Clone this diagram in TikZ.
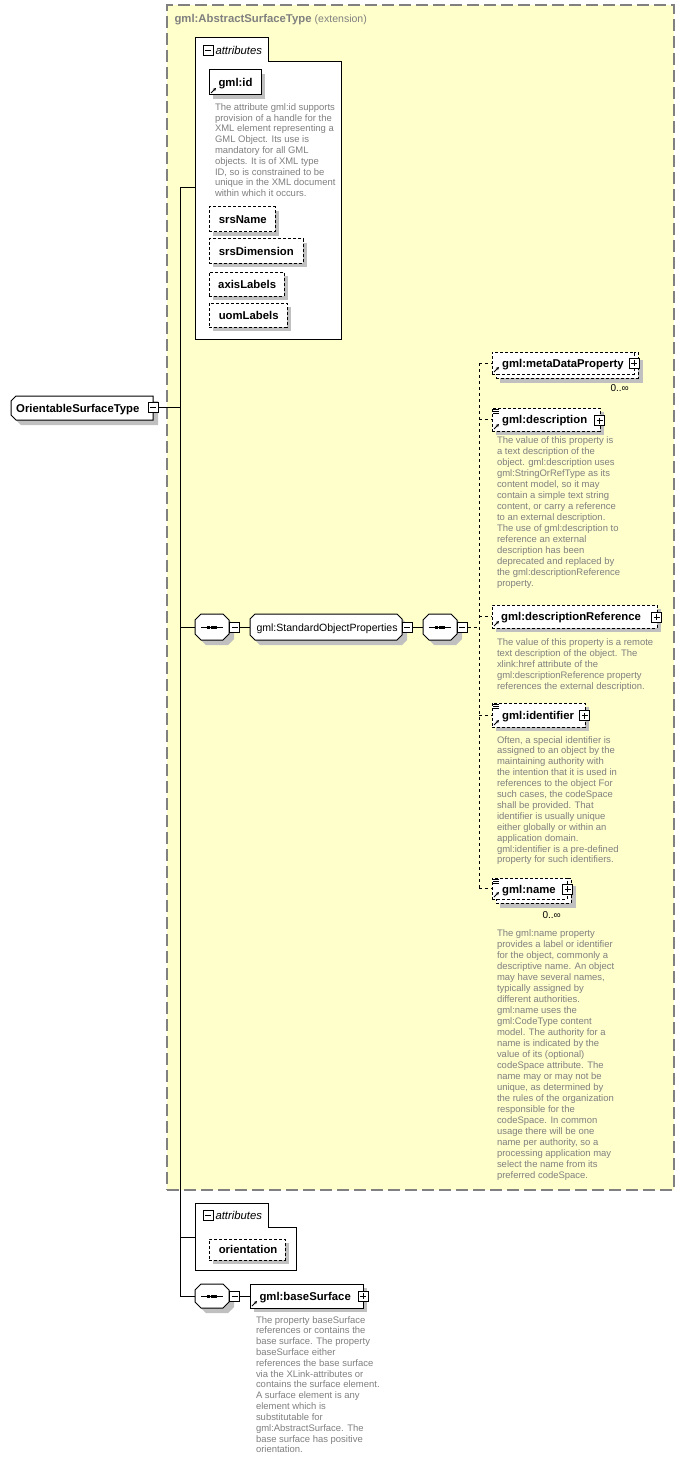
\documentclass[tikz,border=0pt]{standalone}
\usepackage{fontspec}
\setmainfont{Liberation Sans}
\usetikzlibrary{fit,arrows.meta,shadows}
\definecolor{yel}{RGB}{255,255,204}
\definecolor{dgray}{RGB}{128,128,128}
\definecolor{sgray}{RGB}{192,192,192}
\definecolor{tgray}{RGB}{128,128,128}
\newcommand\chamL[5]{(#1,#2+#5) -- (#1+#5,#2) -- (#3,#2) -- (#3,#4) -- (#1+#5,#4) -- (#1,#4-#5) -- cycle}
\newcommand\chamA[5]{(#1,#2+#5) -- (#1+#5,#2) -- (#3-#5,#2) -- (#3,#2+#5) -- (#3,#4-#5) -- (#3-#5,#4) -- (#1+#5,#4) -- (#1,#4-#5) -- cycle}
\newcommand\seqglyph[2]{\draw (#1-11,#2) -- (#1+11,#2);
  \fill (#1-5.3,#2-1.5) rectangle ++(3,3);
  \fill (#1-1.5,#2-1.5) rectangle ++(3,3);
  \fill (#1+2.3,#2-1.5) rectangle ++(3,3);}
\newcommand\arricon[2]{\draw[line width=0.6pt,-{Stealth[length=2.4pt,width=2.4pt]}] (#1+2,#2-2) -- (#1+7,#2-7);}
\newcommand\docicon[2]{\draw[line width=0.5pt] (#1+1,#2+1.5) -- ++(6,0) (#1+1,#2+3.5) -- ++(6,0) (#1+1,#2+5.5) -- ++(6,0);}
\newcommand\desclines[5]{\foreach \dl [count=\di from 0] in {#5} {\node[desc] (#1\di) at (#2,{#3+\di*#4}) {\dl};}}
\begin{document}
\begin{tikzpicture}[x=0.75pt,y=-0.75pt,line width=0.75pt,
  lbl/.style={font=\fontsize{8.5}{10}\selectfont\bfseries, anchor=base west, inner sep=0pt},
  ilbl/.style={font=\fontsize{8.5}{10}\selectfont\itshape, anchor=base west, inner sep=0pt},
  nlbl/.style={font=\fontsize{7.9}{10}\selectfont, anchor=base west, inner sep=0pt},
  desc/.style={font=\fontsize{7.1}{8}\selectfont, text=tgray, anchor=base west, inner sep=0pt},
  occ/.style={font=\fontsize{7.5}{9}\selectfont, anchor=base west, inner sep=0pt},
  box/.style={draw=black, fill=white, inner sep=0pt},
  shbox/.style={box, drop shadow={shadow xshift=3pt, shadow yshift=-3pt, fill=sgray, opacity=1}},
  edash/.style={dash pattern=on 2.25pt off 1.5pt},
  cdash/.style={dash pattern=on 2.25pt off 2.25pt},
  minusbox/.style={draw=black, fill=white, minimum size=7.5pt, inner sep=0pt,
    path picture={\draw[line width=0.75pt] ([xshift=1.5pt]path picture bounding box.west) -- ([xshift=-1.5pt]path picture bounding box.east);}},
  plusbox/.style={draw=black, fill=white, minimum size=7.5pt, inner sep=0pt,
    path picture={\draw[line width=0.75pt] ([xshift=1.5pt]path picture bounding box.west) -- ([xshift=-1.5pt]path picture bounding box.east)
      ([yshift=-1.5pt]path picture bounding box.north) -- ([yshift=1.5pt]path picture bounding box.south);}}
]
\useasboundingbox (0,0) rectangle (685,1462);
\fill[white] (0,0) rectangle (685,1462);

% extension area
\node[fit={(167,5)(674,1190)}, inner sep=0pt, fill=yel, draw=dgray, line width=1pt, dash pattern=on 9pt off 3.75pt] (ext) {};
\node[lbl, text=dgray] (extt) at (174,23) {gml:AbstractSurfaceType {\mdseries\fontsize{7.9}{10}\selectfont (extension)}};

% attributes 1
\draw[fill=white] (195,38) -- (268,38) -- (268,62) -- (341,62) -- (341,339) -- (195,339) -- cycle;
\coordinate (att1w) at (195,188);
\node[minusbox] (att1m) at (208,51) {};
\node[ilbl] (att1t) at (215,54.5) {attributes};

\node[shbox, fit={(209,70)(261,95)}] (idb) {};
\node[lbl] (idl) at (218,86.5) {gml:id};
\arricon{209}{95}
\desclines{idd}{214.5}{110.3}{10.8}{{The attribute gml:id supports},{provision of a handle for the},{XML element representing a},{GML Object. Its use is},{mandatory for all GML},{objects. It is of XML type},{ID, so is constrained to be},{unique in the XML document},{within which it occurs.}}

\node[shbox, edash, fit={(209,207)(275,232)}] (srsb) {};
\node[lbl] (srsl) at (218.3,223.5) {srsName};
\node[shbox, edash, fit={(209,239)(303,263)}] (sdb) {};
\node[lbl] (sdl) at (218.3,255) {srsDimension};
\node[shbox, edash, fit={(209,272)(284,296)}] (alb) {};
\node[lbl] (all) at (217.7,288) {axisLabels};
\node[shbox, edash, fit={(209,303)(287,327)}] (ulb) {};
\node[lbl] (ull) at (218.3,319) {uomLabels};

% OrientableSurfaceType
\fill[sgray, shift={(5,5)}] \chamL{11}{396}{153}{420}{5};
\filldraw[fill=white] \chamL{11}{396}{153}{420}{5};
\node[fit={(11,396)(153,420)}, inner sep=0pt] (ost) {};
\node[lbl] (ostl) at (15.7,412) {OrientableSurfaceType};
\node[minusbox] (ostm) at (153,407.7) {};

% sequence 1
\fill[sgray, shift={(5,5)}] \chamA{195}{614}{229}{640}{6};
\filldraw[fill=white] \chamA{195}{614}{229}{640}{6};
\node[fit={(195,614)(229,640)}, inner sep=0pt] (seq1) {};
\seqglyph{212}{627}
\node[minusbox] (seq1m) at (234.5,627) {};

% StandardObjectProperties
\fill[sgray, shift={(5,5)}] \chamA{250}{614}{402}{640}{5};
\filldraw[fill=white] \chamA{250}{614}{402}{640}{5};
\node[fit={(250,614)(402,640)}, inner sep=0pt] (sop) {};
\node[nlbl] (sopl) at (256,631) {gml:StandardObjectProperties};
\node[minusbox] (sopm) at (407,627) {};

% sequence 2
\fill[sgray, shift={(5,5)}] \chamA{423}{614}{457}{640}{6};
\filldraw[fill=white] \chamA{423}{614}{457}{640}{6};
\node[fit={(423,614)(457,640)}, inner sep=0pt] (seq2) {};
\seqglyph{440}{627}
\node[minusbox] (seq2m) at (462,627) {};

% metaDataProperty
\fill[sgray] (500,360) rectangle (643,383);
\node[box, edash, fit={(496,352)(638,378)}] (mdbk) {};
\node[box, edash, fit={(492,352)(634,374)}] (mdb) {};
\node[lbl] (mdl) at (501.7,367) {gml:metaDataProperty};
\arricon{492}{374}
\node[plusbox] (mdp) at (634,363) {};
\node[occ] (mdo) at (610,391.5) {0..∞};

% description
\node[shbox, edash, fit={(492,408)(600,431)}] (deb) {};
\docicon{492}{408}
\node[lbl] (del) at (501.7,423.5) {gml:description};
\arricon{492}{431}
\node[plusbox] (dep) at (599.5,420.5) {};
\desclines{ded}{496.5}{443}{11}{{The value of this property is},{a text description of the},{object. gml:description uses},{gml:StringOrRefType as its},{content model, so it may},{contain a simple text string},{content, or carry a reference},{to an external description.},{The use of gml:description to},{reference an external},{description has been},{deprecated and replaced by},{the gml:descriptionReference},{property.}}

% descriptionReference
\node[shbox, edash, fit={(492,605)(657,628)}] (drb) {};
\node[lbl] (drl) at (500.7,620.5) {gml:descriptionReference};
\arricon{492}{628}
\node[plusbox] (drp) at (656.5,617) {};
\desclines{drd}{496.5}{645}{11}{{The value of this property is a remote},{text description of the object. The},{xlink:href attribute of the},{gml:descriptionReference property},{references the external description.}}

% identifier
\node[shbox, edash, fit={(492,703)(585,727)}] (ideb) {};
\docicon{492}{703}
\node[lbl] (idel) at (501.7,719) {gml:identifier};
\arricon{492}{727}
\node[plusbox] (idep) at (584.5,715.5) {};
\desclines{ided}{496.5}{743}{10.9}{{Often, a special identifier is},{assigned to an object by the},{maintaining authority with},{the intention that it is used in},{references to the object For},{such cases, the codeSpace},{shall be provided. That},{identifier is usually unique},{either globally or within an},{application domain.},{gml:identifier is a pre-defined},{property for such identifiers.}}

% name
\fill[sgray] (500,886) rectangle (576,908);
\node[box, edash, fit={(496,878)(571,903)}] (nmbk) {};
\node[box, edash, fit={(492,878)(567,899)}] (nmb) {};
\docicon{492}{878}
\node[lbl] (nml) at (501.7,893.5) {gml:name};
\arricon{492}{899}
\node[plusbox] (nmp) at (567.5,889) {};
\node[occ] (nmo) at (542,918.5) {0..∞};
\desclines{nmd}{496.5}{936}{11}{{The gml:name property},{provides a label or identifier},{for the object, commonly a},{descriptive name. An object},{may have several names,},{typically assigned by},{different authorities.},{gml:name uses the},{gml:CodeType content},{model.  The authority for a},{name is indicated by the},{value of its (optional)},{codeSpace attribute.  The},{name may or may not be},{unique, as determined by},{the rules of the organization},{responsible for the},{codeSpace.  In common},{usage there will be one},{name per authority, so a},{processing application may},{select the name from its},{preferred codeSpace.}}

% attributes 2
\draw[fill=white] (195,1203) -- (268,1203) -- (268,1227) -- (296,1227) -- (296,1270) -- (195,1270) -- cycle;
\coordinate (att2w) at (195,1237);
\node[minusbox] (att2m) at (208,1215.7) {};
\node[ilbl] (att2t) at (215,1219.5) {attributes};
\node[shbox, edash, fit={(209,1239)(285,1260)}] (orb) {};
\node[lbl] (orl) at (218.3,1253.5) {orientation};

% sequence 3
\fill[sgray, shift={(5,5)}] \chamA{195}{1284}{229}{1308}{6};
\filldraw[fill=white] \chamA{195}{1284}{229}{1308}{6};
\node[fit={(195,1284)(229,1308)}, inner sep=0pt] (seq3) {};
\seqglyph{212}{1296}
\node[minusbox] (seq3m) at (234.5,1296) {};

% baseSurface
\node[shbox, fit={(250,1284)(363,1308)}] (bsb) {};
\node[lbl] (bsl) at (259,1300) {gml:baseSurface};
\arricon{250}{1308}
\node[plusbox] (bsp) at (363,1296) {};
\desclines{bsd}{255.5}{1323}{10.83}{{The property baseSurface},{references or contains the},{base surface. The property},{baseSurface either},{references the base surface},{via the XLink-attributes or},{contains the surface element.},{A surface element is any},{element which is},{substitutable for},{gml:AbstractSurface. The},{base surface has positive},{orientation.}}

% connectors
\coordinate (trb) at (180,1296);
\draw (att1w) -| (trb) -- (seq3.west);
\draw (ostm.east) -- (ostm.east -| trb);
\draw (seq1.west -| trb) -- (seq1.west);
\draw (att2w -| trb) -- (att2w);
\draw (seq1m.east) -- (sop.west);
\draw (sopm.east) -- (seq2.west);
\draw (seq3m.east) -- (bsb.west);
\coordinate (vj) at (479,627);
\draw[cdash] (seq2m.east) -- (vj);
\draw[cdash] (mdb.west -| vj) -- (nmb.west -| vj);
\foreach \n in {mdb,deb,drb,ideb,nmb} {\draw[cdash] (\n.west -| vj) -- (\n.west);}
\end{tikzpicture}
\end{document}
